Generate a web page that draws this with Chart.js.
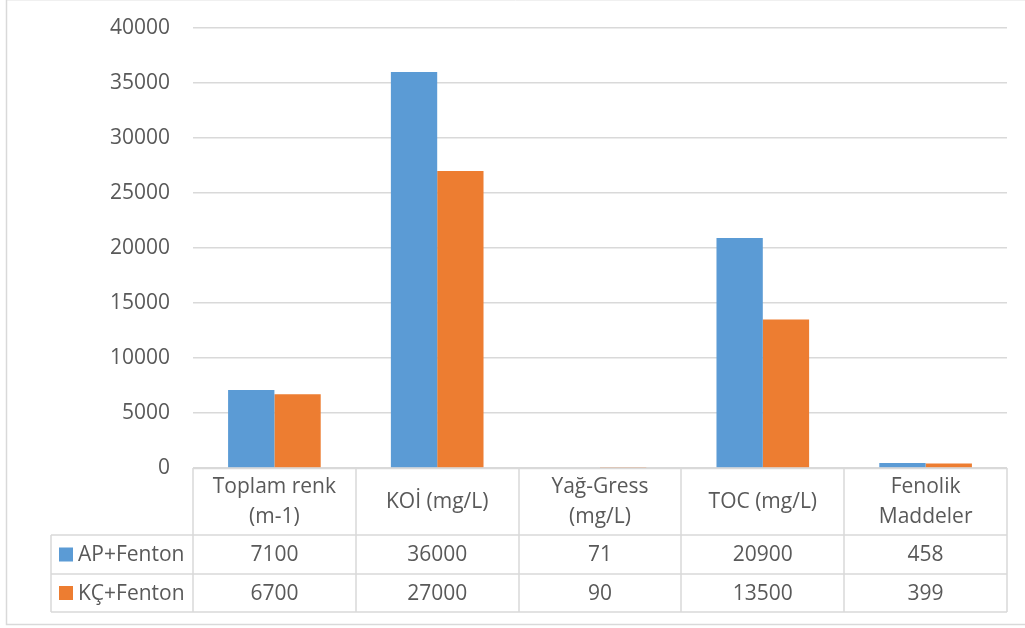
<!DOCTYPE html>
<html>
<head>
<meta charset="utf-8">
<title>Fenton</title>
<script src="https://cdn.jsdelivr.net/npm/chart.js@4.4.1/dist/chart.umd.min.js"></script>
<style>
  html, body { margin: 0; padding: 0; background: #ffffff; }
  canvas { display: block; }
</style>
</head>
<body>
<canvas id="chart" width="1025" height="628"></canvas>
<script>
// Parameters (categories) and the two treatment series
const categories = [['Toplam renk', '(m-1)'], 'KOİ (mg/L)', ['Yağ-Gress', '(mg/L)'], 'TOC (mg/L)', ['Fenolik', 'Maddeler']];
const seriesNames = ['AP+Fenton', 'KÇ+Fenton'];
const apFenton = [7100, 36000, 71, 20900, 458];
const kcFenton = [6700, 27000, 90, 13500, 399];
const yMin = 0;
const yMax = 40000;
const yStep = 5000;

const seriesColors = ['#5B9BD5', '#ED7D31'];
const textColor = '#595959';
const lineColor = '#d9d9d9';
const fontFamily = '"Open Sans", "DejaVu Sans", sans-serif';
const fontSize = 21;

// Row boundaries of the data table under the plot
const headerBottom = 535;
const row1Bottom = 574;
const row2Bottom = 612;
const legendColLeft = 51;

const frame = {
  id: 'frame',
  beforeDraw(chart) {
    const ctx = chart.ctx;
    ctx.save();
    ctx.fillStyle = '#ffffff';
    ctx.fillRect(0, 0, chart.width, chart.height);
    ctx.strokeStyle = '#f0f0f0';
    ctx.lineWidth = 1;
    ctx.beginPath();
    ctx.moveTo(6, 0.5);
    ctx.lineTo(chart.width, 0.5);
    ctx.stroke();
    ctx.strokeStyle = lineColor;
    ctx.lineWidth = 1.5;
    ctx.beginPath();
    ctx.moveTo(6.5, 0);
    ctx.lineTo(6.5, 624.5);
    ctx.lineTo(chart.width, 624.5);
    ctx.stroke();
    ctx.restore();
  }
};

// Data table: category headers, series rows with legend keys
const dataTable = {
  id: 'dataTable',
  afterDraw(chart) {
    const ctx = chart.ctx;
    const x = chart.scales.x;
    const area = chart.chartArea;
    const n = chart.data.labels.length;
    const cellW = (area.right - area.left) / n;
    const top = area.bottom;

    ctx.save();
    ctx.strokeStyle = lineColor;
    ctx.lineWidth = 1.5;

    const hline = (x0, x1, y) => {
      ctx.beginPath();
      ctx.moveTo(x0, y);
      ctx.lineTo(x1, y);
      ctx.stroke();
    };
    const vline = (xx, y0, y1) => {
      ctx.beginPath();
      ctx.moveTo(xx, y0);
      ctx.lineTo(xx, y1);
      ctx.stroke();
    };
    hline(area.left, area.right, top + 0.5);
    hline(legendColLeft, area.right, headerBottom);
    hline(legendColLeft, area.right, row1Bottom);
    hline(legendColLeft, area.right, row2Bottom);

    for (let i = 0; i <= n; i++) {
      vline(Math.round(area.left + i * cellW), top, row2Bottom);
    }
    vline(legendColLeft, headerBottom, row2Bottom);

    ctx.fillStyle = textColor;
    ctx.font = fontSize + 'px ' + fontFamily;
    ctx.textAlign = 'center';
    ctx.textBaseline = 'middle';

    // category headers
    const headerMid = (top + headerBottom) / 2;
    const lineH = 30;
    chart.data.labels.forEach((lab, i) => {
      const cx = x.getPixelForTick(i);
      const lines = Array.isArray(lab) ? lab : [lab];
      const y0 = headerMid - (lines.length - 1) * lineH / 2;
      lines.forEach((t, k) => ctx.fillText(t, cx, y0 + k * lineH + 1));
    });

    // series rows
    const rows = [
      { top: headerBottom, bottom: row1Bottom },
      { top: row1Bottom, bottom: row2Bottom }
    ];
    chart.data.datasets.forEach((ds, r) => {
      const mid = (rows[r].top + rows[r].bottom) / 2;
      ctx.textAlign = 'center';
      ctx.fillStyle = textColor;
      ds.data.forEach((v, i) => {
        ctx.fillText(String(v), x.getPixelForTick(i), mid + 1);
      });
      ctx.fillStyle = ds.backgroundColor;
      ctx.fillRect(59, mid - 7, 14, 14);
      ctx.fillStyle = textColor;
      ctx.textAlign = 'left';
      ctx.fillText(ds.label, 78, mid + 1);
    });
    ctx.restore();
  }
};

new Chart(document.getElementById('chart'), {
  type: 'bar',
  data: {
    labels: categories,
    datasets: [
      { label: seriesNames[0], data: apFenton, backgroundColor: seriesColors[0] },
      { label: seriesNames[1], data: kcFenton, backgroundColor: seriesColors[1] }
    ]
  },
  options: {
    responsive: false,
    animation: false,
    devicePixelRatio: 1,
    layout: { padding: { top: 28, right: 18, bottom: 160, left: 0 } },
    datasets: {
      bar: { barPercentage: 1, categoryPercentage: 0.569, borderWidth: 0 }
    },
    plugins: {
      legend: { display: false },
      tooltip: { enabled: false },
      title: { display: false }
    },
    scales: {
      x: {
        display: false,
        grid: { display: false }
      },
      y: {
        min: yMin,
        max: yMax,
        afterFit(scale) {
          scale.width = 193;
          scale.paddingTop = 0;
          scale.paddingBottom = 0;
        },
        border: { display: false },
        grid: { color: lineColor, lineWidth: 1.5, drawTicks: false },
        ticks: {
          stepSize: yStep,
          padding: 23,
          color: textColor,
          font: { family: fontFamily, size: fontSize },
          callback: (v) => String(v)
        }
      }
    }
  },
  plugins: [frame, dataTable]
});
</script>
</body>
</html>
